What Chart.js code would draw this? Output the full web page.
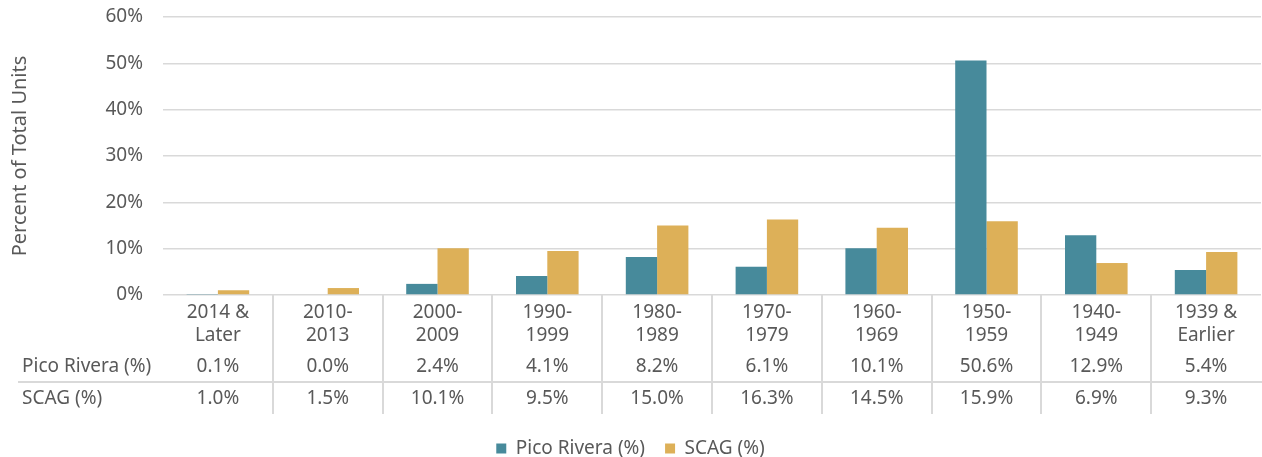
<!DOCTYPE html>
<html>
<head>
<meta charset="utf-8">
<script src="https://cdn.jsdelivr.net/npm/chart.js@4"></script>
<style>
  html, body { margin: 0; padding: 0; background: #fff; }
  #wrap { width: 1262px; height: 457px; }
</style>
</head>
<body>
<div id="wrap"><canvas id="c"></canvas></div>
<script>
const categories = [['2014 &', 'Later'], ['2010-', '2013'], ['2000-', '2009'], ['1990-', '1999'], ['1980-', '1989'],
  ['1970-', '1979'], ['1960-', '1969'], ['1950-', '1959'], ['1940-', '1949'], ['1939 &', 'Earlier']];
const picoRivera = [0.1, 0.0, 2.4, 4.1, 8.2, 6.1, 10.1, 50.6, 12.9, 5.4];
const scag = [1.0, 1.5, 10.1, 9.5, 15.0, 16.3, 14.5, 15.9, 6.9, 9.3];
const seriesNames = ['Pico Rivera (%)', 'SCAG (%)'];
const yTicks = [0, 10, 20, 30, 40, 50, 60];

const TEXT = '#595959';
const LINE = '#d9d9d9';
const FONT = '"Noto Sans", sans-serif';

// data table drawn under the x axis
const dataTable = {
  id: 'dataTable',
  afterLayout(chart) {
    // push the legend lower, under the table
    chart.legend.top += 11;
    chart.legend.bottom += 11;
  },
  afterDraw(chart) {
    const ctx = chart.ctx;
    const xs = chart.scales.x;
    const top = xs.top;
    const n = categories.length;
    ctx.save();
    ctx.strokeStyle = LINE;
    ctx.lineWidth = 2;
    for (let i = 1; i < n; i++) {
      const x = Math.round((xs.getPixelForTick(i - 1) + xs.getPixelForTick(i)) / 2);
      ctx.beginPath();
      ctx.moveTo(x, top);
      ctx.lineTo(x, top + 119);
      ctx.stroke();
    }
    ctx.beginPath();
    ctx.moveTo(18, top + 87);
    ctx.lineTo(chart.width, top + 87);
    ctx.stroke();

    ctx.fillStyle = TEXT;
    ctx.font = '19px ' + FONT;
    ctx.textBaseline = 'middle';
    const rows = [picoRivera, scag];
    rows.forEach((vals, r) => {
      const y = top + (r === 0 ? 72 : 104);
      ctx.textAlign = 'left';
      ctx.fillText(seriesNames[r], 22, y);
      ctx.textAlign = 'center';
      vals.forEach((v, i) => ctx.fillText(v.toFixed(1) + '%', xs.getPixelForTick(i), y));
    });
    ctx.restore();
  }
};

new Chart(document.getElementById('c'), {
  type: 'bar',
  data: {
    labels: categories,
    datasets: [
      { label: seriesNames[0], data: picoRivera, backgroundColor: '#478a9b' },
      { label: seriesNames[1], data: scag, backgroundColor: '#ddb058' }
    ]
  },
  options: {
    responsive: true,
    maintainAspectRatio: false,
    animation: false,
    layout: { padding: { top: 17, right: 1, left: 0, bottom: 0 } },
    plugins: {
      tooltip: { enabled: false },
      legend: {
        position: 'bottom',
        labels: { boxWidth: 10, boxHeight: 10, padding: 20, color: TEXT, font: { family: FONT, size: 19 } }
      }
    },
    datasets: { bar: { categoryPercentage: 0.57, barPercentage: 1 } },
    scales: {
      x: {
        grid: { display: false },
        border: { display: false },
        ticks: { color: TEXT, padding: -2, maxRotation: 0, autoSkip: false, font: { family: FONT, size: 19, lineHeight: 1.2 } },
        afterFit: s => { s.height = 113; s.paddingLeft = 0; s.paddingRight = 0; }
      },
      y: {
        min: 0,
        max: 60,
        afterBuildTicks: s => { s.ticks = yTicks.map(v => ({ value: v })); },
        grid: { color: LINE, lineWidth: 1.5, drawTicks: false },
        border: { display: false },
        ticks: { color: TEXT, padding: 20, font: { family: FONT, size: 19 }, callback: v => v + '%' },
        title: { display: true, text: 'Percent of Total Units', color: TEXT, font: { family: FONT, size: 20 }, padding: { top: 8, bottom: 0 } },
        afterFit: s => { s.width = 163; s.paddingTop = 0; s.paddingBottom = 0; }
      }
    }
  },
  plugins: [dataTable]
});
</script>
</body>
</html>
